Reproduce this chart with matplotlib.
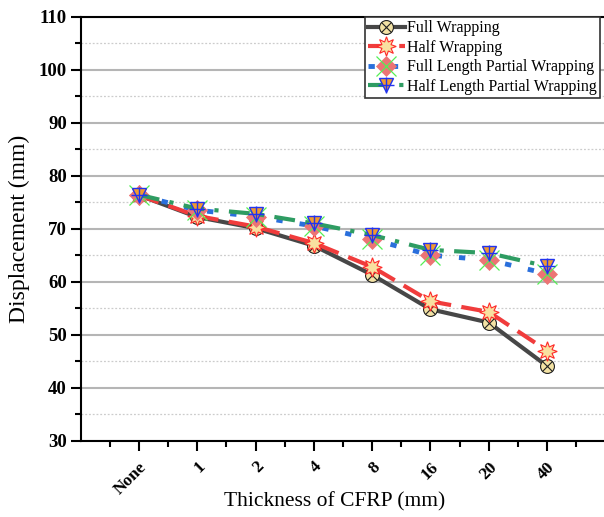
import matplotlib
matplotlib.use("Agg")
import matplotlib.pyplot as plt
import numpy as np

categories = ["None", "1", "2", "4", "8", "16", "20", "40"]
full_wrap = [76.3, 72.2, 70.1, 66.8, 61.3, 54.8, 52.3, 44.1]
half_wrap = [76.3, 72.4, 70.4, 67.3, 62.8, 56.3, 54.3, 47.0]
full_len_partial = [76.3, 73.5, 72.3, 70.5, 68.0, 65.0, 64.1, 61.5]
half_len_partial = [76.4, 73.8, 72.8, 71.0, 68.8, 66.0, 65.4, 62.9]

plt.rcParams["font.family"] = ["Liberation Serif", "DejaVu Serif"]

fig = plt.figure(figsize=(6.04, 5.17), dpi=100)
# axes extends past the right edge (the reference image is cropped there)
ax = fig.add_axes([80.7 / 604, 1 - 440.7 / 517, 612 / 604, 424 / 517])
x = np.arange(len(categories))

l1, = ax.plot(x, full_wrap, "-", color="#474747", lw=3, marker="o", ms=10,
              mfc="#f3e2a4", mec="#222222", mew=0.8, zorder=3)
o1, = ax.plot(x, full_wrap, ls="none", marker="x", ms=7, mec="#222222",
              mew=0.8, zorder=3.1)

l2, = ax.plot(x, half_wrap, ls=(0, (5, 2.5)), color="#f03c3c", lw=3,
              marker=(8, 1, 0), ms=14, mfc="#f8e0a0", mec="#ff2a2a",
              mew=0.8, zorder=4)

l3, = ax.plot(x, full_len_partial, ls=(0, (1.3, 3.5)), color="#2a6fdc", lw=3.5,
              marker="D", ms=10, mfc="#ec7474", mec="#ec7474", mew=0.5,
              zorder=5)
o3, = ax.plot(x, full_len_partial, ls="none", marker="x", ms=14,
              mec="#55ee55", mew=0.9, zorder=5.1)

l4, = ax.plot(x, half_len_partial, ls=(0, (5, 2.5, 1, 2.5)), color="#2e9c62",
              lw=3, marker="v", ms=10, mfc="#f09a30", mec="#2233ee", mew=1,
              zorder=6)
o4, = ax.plot(x, half_len_partial, ls="none", marker="+", ms=12,
              mec="#2233ee", mew=1, zorder=6.1)

ax.set_xlim(-1, 9.5)
ax.set_ylim(30, 110)
ax.set_xticks(x)
ax.set_xticks(np.arange(-0.5, 9.5, 1), minor=True)
ax.set_xticklabels(categories, rotation=45, ha="right", rotation_mode="anchor",
                   fontweight="bold", fontsize=12.5)
ax.set_yticks(np.arange(30, 111, 10))
ax.set_yticks(np.arange(35, 110, 10), minor=True)
for lab in ax.get_yticklabels():
    lab.set_fontweight("bold")
    lab.set_fontsize(13.5)

ax.tick_params(which="major", direction="out", length=7, width=1.5, pad=3)
ax.tick_params(which="minor", direction="out", length=4, width=1.5)
ax.tick_params(axis="x", which="major", pad=6)
for s in ax.spines.values():
    s.set_linewidth(1.5)

ax.grid(True, axis="y", which="major", color="#b5b5b5", lw=1.5)
ax.grid(True, axis="y", which="minor", color="#cccccc", lw=0.9, ls=(0, (1.5, 1.5)))
ax.set_axisbelow(True)

ax.set_xlabel("Thickness of CFRP (mm)", fontsize=15.5)
ax.xaxis.set_label_coords((335 - 80.7) / 612, -(492 - 440.7) / 424)
ax.set_ylabel("Displacement (mm)", fontsize=17, labelpad=6)

leg = fig.legend([(l1, o1), (l2,), (l3, o3), (l4, o4)],
                 ["Full Wrapping", "Half Wrapping",
                  "Full Length Partial Wrapping", "Half Length Partial Wrapping"],
                 loc="upper right", bbox_to_anchor=(600 / 604, 1 - 17 / 517),
                 fancybox=False, framealpha=1, edgecolor="#333333",
                 prop={"size": 11.5}, handlelength=2.3,
                 handletextpad=0.15, labelspacing=0.22, borderpad=0.2,
                 borderaxespad=0)
leg.get_frame().set_linewidth(1.2)

fig.savefig("out.png", dpi=100)
